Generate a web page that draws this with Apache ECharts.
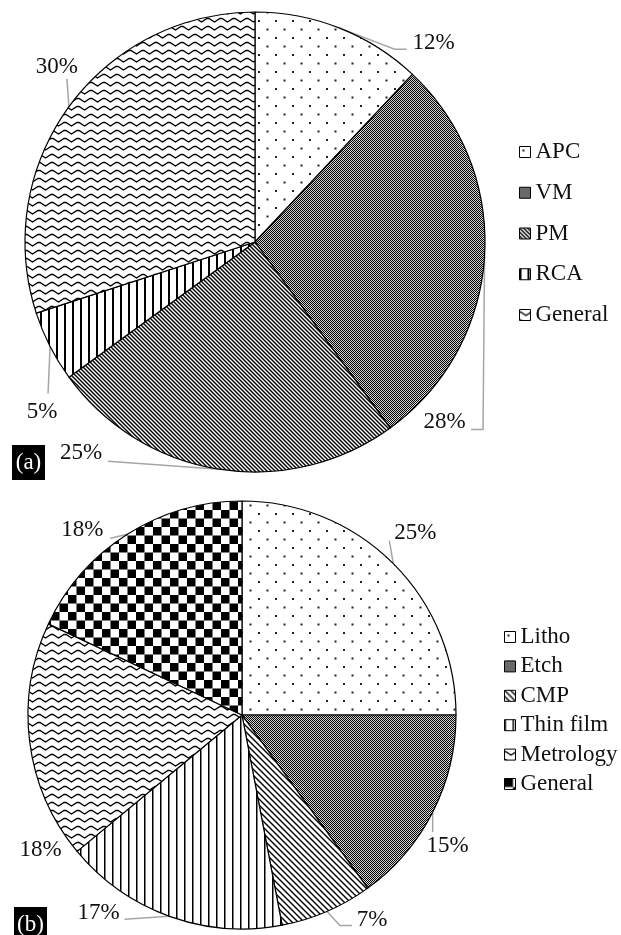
<!DOCTYPE html>
<html>
<head>
<meta charset="utf-8">
<script src="https://cdn.jsdelivr.net/npm/echarts@6/dist/echarts.min.js"></script>
<style>
  html, body { margin: 0; padding: 0; background: #fff; }
  #chart { width: 621px; height: 935px; }
</style>
</head>
<body>
<div id="chart"></div>
<script>
// (a) application share, (b) process share, in percent
const catsA = ['APC', 'VM', 'PM', 'RCA', 'General'];
const valsA = [12, 28, 25, 5, 30];
const catsB = ['Litho', 'Etch', 'CMP', 'Thin film', 'Metrology', 'General'];
const valsB = [25, 15, 7, 17, 18, 18];

const SERIF = "'Liberation Serif', 'Times New Roman', serif";

// ---- hatch / pattern tiles ----
function tile(w, h, draw) {
  const c = document.createElement('canvas');
  c.width = w; c.height = h;
  const g = c.getContext('2d');
  g.fillStyle = '#fff';
  g.fillRect(0, 0, w, h);
  draw(g, w, h);
  return { image: c, repeat: 'repeat' };
}
const dots = () => tile(17, 17, g => {
  g.fillStyle = '#222';
  g.fillRect(3, 3, 2, 2);
  g.fillRect(11.5, 11.5, 2, 2);
});
const fineChecker = () => tile(2, 2, g => {
  g.fillStyle = '#d2d2d2';
  g.fillRect(0, 0, 2, 2);
  g.fillStyle = '#000';
  g.fillRect(0, 0, 1, 1);
  g.fillRect(1, 1, 1, 1);
});
const diag = (s, lw) => tile(s, s, g => {
  g.strokeStyle = '#000';
  g.lineWidth = lw;
  for (let k = -2; k <= 2; k++) {
    g.beginPath();
    g.moveTo(k * s - s, -s);
    g.lineTo(k * s + 2 * s, 2 * s);
    g.stroke();
  }
});
const vlines = (s, lw) => tile(s, s, g => {
  g.fillStyle = '#000';
  g.fillRect(0, 0, lw, s);
});
const zigzag = () => tile(13, 8, g => {
  g.strokeStyle = '#000';
  g.lineWidth = 1.4;
  g.beginPath();
  g.moveTo(-6.5, 6);
  g.lineTo(-1, 2.5);
  g.lineTo(1, 2.5);
  g.lineTo(6.5, 6);
  g.lineTo(12, 2.5);
  g.lineTo(14, 2.5);
  g.lineTo(19.5, 6);
  g.stroke();
});
const bigChecker = () => tile(17, 17, g => {
  g.fillStyle = '#000';
  g.fillRect(0, 0, 8.5, 8.5);
  g.fillRect(8.5, 8.5, 8.5, 8.5);
});

const fillsA = [dots(), fineChecker(), diag(4, 1.4), vlines(8, 2), zigzag()];
const fillsB = [dots(), fineChecker(), diag(6, 1.4), vlines(8, 1.5), zigzag(), bigChecker()];

// label text centre and leader bends, relative to the slice's outer mid-point
const labelPosA = [
  { text: [94, 15],   line: [[55, 21], [67, 21]] },
  { text: [-40, 166], line: [[-1.5, 173], [-13.5, 173]] },
  { text: [-138, -16], line: [[-111, -8]] },
  { text: [-8, 66],   line: [[-2, 47]] },
  { text: [-12, -40], line: [[-2, -28]] }
];
const labelPosB = [
  { text: [22, -31],  line: [[-4, -23]] },
  { text: [15, 34],   line: [[0, 20]] },
  { text: [45, 9],    line: [[13, 14], [25, 14]] },
  { text: [-71, -3],  line: [[-45, 3]] },
  { text: [11, 108],  line: null },
  { text: [-45, -4],  line: [[-17, 4]] }
];

function makeLayout(spec) {
  return function (params) {
    const s = spec[params.dataIndex];
    const pts = params.labelLinePoints;
    if (!s || !pts) return {};
    const e = pts[0];
    const out = {
      x: e[0] + s.text[0],
      y: e[1] + s.text[1],
      align: 'center',
      verticalAlign: 'middle'
    };
    let line = [[e[0], e[1]]];
    if (s.line) line = line.concat(s.line.map(d => [e[0] + d[0], e[1] + d[1]]));
    while (line.length < 3) line.push(line[line.length - 1].slice());
    out.labelLinePoints = line;
    return out;
  };
}

function pieSeries(prefix, cats, vals, fills, center, radius, spec) {
  return {
    type: 'pie',
    center: center,
    radius: radius,
    startAngle: 90,
    clockwise: true,
    avoidLabelOverlap: false,
    silent: true,
    emphasis: { disabled: true },
    data: cats.map((n, i) => {
      const item = { name: prefix + n, value: vals[i], itemStyle: { color: fills[i] } };
      if (!spec[i].line) item.labelLine = { lineStyle: { opacity: 0 } };
      return item;
    }),
    itemStyle: { borderColor: '#000', borderWidth: 1.2 },
    label: {
      show: true,
      position: 'outside',
      formatter: p => p.value + '%',
      color: '#111',
      fontSize: 23,
      fontFamily: SERIF
    },
    labelLine: {
      show: true,
      length: 10,
      length2: 10,
      lineStyle: { color: '#a6a6a6', width: 1.5 }
    },
    labelLayout: makeLayout(spec)
  };
}

function legendFor(prefix, cats, left, top, gap) {
  return {
    orient: 'vertical',
    left: left,
    top: top,
    padding: 0,
    icon: 'rect',
    itemWidth: 11,
    itemHeight: 11,
    itemGap: gap,
    selectedMode: false,
    data: cats.map(n => prefix + n),
    formatter: n => n.slice(prefix.length),
    itemStyle: { borderColor: '#000', borderWidth: 1 },
    textStyle: { fontSize: 23, fontFamily: SERIF, color: '#111', lineHeight: 26 }
  };
}

function badge(text, x, y, w, h) {
  return [
    { type: 'rect', shape: { x: x, y: y, width: w, height: h }, style: { fill: '#000' } },
    { type: 'text', style: {
        text: text, x: x + w / 2, y: y + h / 2, align: 'center', verticalAlign: 'middle',
        fill: '#fff', font: '23px ' + SERIF } }
  ];
}

const chart = echarts.init(document.getElementById('chart'), null, { renderer: 'canvas' });
chart.setOption({
  animation: false,
  backgroundColor: '#fff',
  legend: [
    legendFor('a:', catsA, 519, 139, 14.75),
    legendFor('b:', catsB, 504, 624, 3.4)
  ],
  graphic: badge('(a)', 12, 445, 33, 35).concat(badge('(b)', 14, 907, 33, 35)),
  series: [
    pieSeries('a:', catsA, valsA, fillsA, [255, 242], 230, labelPosA),
    pieSeries('b:', catsB, valsB, fillsB, [242, 715], 214, labelPosB)
  ]
});
</script>
</body>
</html>
